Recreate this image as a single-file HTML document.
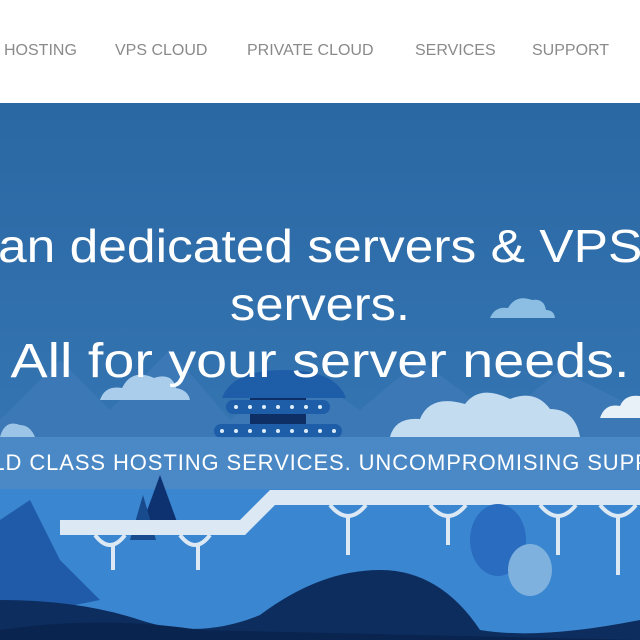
<!DOCTYPE html>
<html><head><meta charset="utf-8"><style>
html,body{margin:0;padding:0;width:640px;height:640px;overflow:hidden;background:#fff;font-family:"Liberation Sans",sans-serif}
#wrap{position:absolute;left:0;top:0;width:640px;height:640px;overflow:hidden}
.n{position:absolute;top:42px;font-size:16px;color:#8a8a8a;white-space:nowrap}
.h{position:absolute;color:#fff;font-size:46px;white-space:nowrap;left:0;width:640px;text-align:center;font-weight:normal;transform-origin:center}
</style></head><body><div id="wrap">
<div class="n" style="left:4px">HOSTING</div>
<div class="n" style="left:115px">VPS CLOUD</div>
<div class="n" style="left:247px">PRIVATE CLOUD</div>
<div class="n" style="left:415px">SERVICES</div>
<div class="n" style="left:532px">SUPPORT</div>
<svg style="position:absolute;left:0;top:103px" width="640" height="537" viewBox="0 103 640 537">
<defs><linearGradient id="bg" x1="0" y1="0" x2="0" y2="1"><stop offset="0" stop-color="#2a68a3"/><stop offset="1" stop-color="#3a7cbb"/></linearGradient></defs>
<rect x="0" y="103" width="640" height="537" fill="url(#bg)"/>
<path d="M0 420 L60 360 L110 410 L170 350 L230 420 L300 370 L360 410 L420 360 L500 420 L560 370 L640 410 L640 640 L0 640Z" fill="#3b78b5"/>
<path d="M490 318 q5-12 18-10 q8-14 24-8 q12-2 14 10 q8 0 9 8Z" fill="#8cbde3"/>
<path d="M100 400 q5-15 22-12 q10-20 32-10 q18-6 22 10 q12 2 14 12Z" fill="#a9cdea"/>
<path d="M390 437 q5-20 30-18 q10-25 45-15 q15-20 45-5 q25-10 40 10 q25 0 30 28Z" fill="#c3dcf0"/>
<path d="M600 418 q5-15 20-12 q5-12 20-10 L640 418Z" fill="#e8f0f8"/>
<path d="M0 437 q5-18 20-12 q10 0 15 12Z" fill="#9cc4e6"/>
<path d="M222 398 q10-28 62-28 q52 0 62 28Z" fill="#1e5ea8"/>
<rect x="250" y="398" width="56" height="40" fill="#0e2f66"/>
<rect x="226" y="400" width="104" height="14" rx="7" fill="#1e5ea8"/>
<rect x="214" y="424" width="128" height="14" rx="7" fill="#1e5ea8"/>
<g fill="#dfeefa"><circle cx="236" cy="407" r="2"/><circle cx="250" cy="407" r="2"/><circle cx="264" cy="407" r="2"/><circle cx="278" cy="407" r="2"/><circle cx="292" cy="407" r="2"/><circle cx="306" cy="407" r="2"/><circle cx="320" cy="407" r="2"/>
<circle cx="222" cy="431" r="2"/><circle cx="236" cy="431" r="2"/><circle cx="250" cy="431" r="2"/><circle cx="264" cy="431" r="2"/><circle cx="278" cy="431" r="2"/><circle cx="292" cy="431" r="2"/><circle cx="306" cy="431" r="2"/><circle cx="320" cy="431" r="2"/><circle cx="334" cy="431" r="2"/></g>
<rect x="0" y="437" width="640" height="52" fill="#4f8cc9" opacity="0.85"/>
<rect x="0" y="489" width="640" height="151" fill="#3a86d0"/>
<path d="M0 520 L30 500 L60 560 L100 600 L0 620Z" fill="#1f5ba8"/>
<path d="M140 530 L160 475 L180 530Z" fill="#0e3170"/>
<path d="M130 540 L143 495 L156 540Z" fill="#184a8e"/>
<path d="M60 520 L240 520 L270 490 L640 490 L640 505 L275 505 L245 535 L60 535Z" fill="#dce9f5"/>
<g fill="none" stroke="#dce9f5" stroke-width="4">
<path d="M95 535 q15 20 30 0"/><path d="M180 535 q15 20 30 0"/><path d="M330 505 q18 22 36 0"/><path d="M430 505 q18 22 36 0"/><path d="M540 505 q18 22 36 0"/><path d="M600 505 q18 22 36 0"/>
<path d="M113 545 v25"/><path d="M198 545 v25"/><path d="M348 515 v40"/><path d="M448 515 v30"/><path d="M558 515 v40"/><path d="M618 515 v60"/></g>
<ellipse cx="498" cy="540" rx="28" ry="36" fill="#2a6cc0"/>
<ellipse cx="530" cy="570" rx="22" ry="26" fill="#7fb1de"/>
<path d="M0 640 L0 600 Q80 600 140 620 Q200 640 260 615 Q320 570 380 570 Q440 570 480 630 Q540 640 640 620 L640 640Z" fill="#0d2d5e"/>
<path d="M0 640 L0 630 Q100 615 200 630 L640 640Z" fill="#0a2450"/>
</svg>
<div class="h" style="top:219px;left:-2px;width:auto;text-align:left;transform:scaleX(1.12);transform-origin:left">an dedicated servers &amp; VPS</div>
<div class="h" style="top:277px;transform:scaleX(1.1)">servers.</div>
<div class="h" style="top:334px;font-size:48px;transform:scaleX(1.16)">All for your server needs.</div>
<div style="position:absolute;top:450px;left:-110px;width:860px;text-align:center;color:#fff;font-size:22px;white-space:nowrap;letter-spacing:0.9px">WORLD CLASS HOSTING SERVICES. UNCOMPROMISING SUPPORT.</div>
</div></body></html>
